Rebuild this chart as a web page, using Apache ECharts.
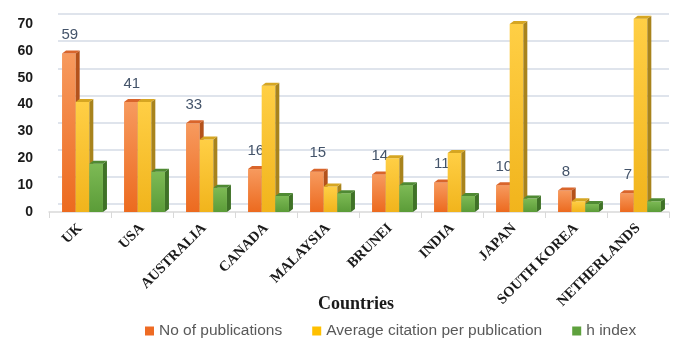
<!DOCTYPE html>
<html>
<head>
<meta charset="utf-8">
<script src="https://cdn.jsdelivr.net/npm/echarts@6/dist/echarts.min.js"></script>
<style>
  html, body { margin: 0; padding: 0; background: #fff; }
  #chart { width: 673px; height: 343px; }
</style>
</head>
<body>
<div id="chart"></div>
<script>
// data
const countries = ['UK', 'USA', 'AUSTRALIA', 'CANADA', 'MALAYSIA', 'BRUNEI', 'INDIA', 'JAPAN', 'SOUTH KOREA', 'NETHERLANDS'];
const publications = [59, 41, 33, 16, 15, 14, 11, 10, 8, 7];
const avgCitation = [41, 41, 27, 47, 9.5, 20, 22, 70, 4, 72];
const hIndex = [18, 15, 9, 6, 7, 10, 6, 5, 3, 4];
const yTicks = [0, 10, 20, 30, 40, 50, 60, 70];

// face colours: [front top, front bottom, side, top]
const faces = [
  ['#f79a5e', '#ec6a1f', '#b4521b', '#d9652b'],
  ['#ffcf45', '#f1b41c', '#a8831c', '#d6a622'],
  ['#7dba55', '#5b9c38', '#3f7227', '#4f8a33']
];
const legendColors = ['#ee6b24', '#ffc000', '#5ea13d'];

const DX = 4, DY = -3;

// draws one 3D-looking bar from the axis scale
function makeRender(idx, withLabel) {
  return function (params, api) {
    const cat = api.value(0);
    const val = api.value(1);
    const top = api.coord([cat, val]);
    const base = api.coord([cat, 0]);
    const catW = api.size([1, 0])[0];
    const bw = catW * 0.22;
    const x0 = top[0] - 1.5 * bw + 2.5 + idx * bw;
    const x1 = x0 + bw;
    const yT = top[1], yB = base[1];
    const f = faces[idx];
    const children = [
      {
        type: 'rect',
        shape: { x: x0, y: yT, width: bw, height: yB - yT },
        style: {
          fill: new echarts.graphic.LinearGradient(0, 0, 0, 1, [
            { offset: 0, color: f[0] }, { offset: 1, color: f[1] }
          ])
        }
      },
      {
        type: 'polygon',
        shape: { points: [[x1, yT], [x1 + DX, yT + DY], [x1 + DX, yB + DY], [x1, yB]] },
        style: { fill: f[2] }
      },
      {
        type: 'polygon',
        shape: { points: [[x0, yT], [x0 + DX, yT + DY], [x1 + DX, yT + DY], [x1, yT]] },
        style: { fill: f[3] }
      }
    ];
    if (withLabel) {
      children.push({
        type: 'text',
        style: {
          text: String(val),
          x: x0 + bw / 2 + 1,
          y: yT - 11,
          align: 'center',
          verticalAlign: 'bottom',
          fill: '#44546a',
          font: '15px "Liberation Sans", Arial, sans-serif'
        }
      });
    }
    return { type: 'group', children: children };
  };
}

function seriesData(arr) {
  return arr.map((v, i) => [i, v]);
}

const chart = echarts.init(document.getElementById('chart'));

const option = {
  animation: false,
  title: {
    text: 'Countries',
    left: 318,
    top: 295,
    padding: 0,
    textStyle: {
      color: '#1a1a1a',
      fontWeight: 'bold',
      fontSize: 18,
      fontFamily: '"Liberation Serif", "Times New Roman", serif'
    }
  },
  legend: {
    top: 323,
    left: 145,
    padding: 0,
    itemWidth: 9,
    itemHeight: 9,
    itemGap: 30,
    icon: 'rect',
    textStyle: { fontSize: 15.5, color: '#595959', fontFamily: '"Liberation Sans", Arial, sans-serif' },
    data: ['No of publications', 'Average citation per publication', 'h index']
  },
  grid: [
    { left: 49, right: 4, top: 24, bottom: 131 },
    { left: 58, right: 4, top: 14, bottom: 139 }
  ],
  xAxis: [
    {
      type: 'category',
      gridIndex: 0,
      data: countries,
      axisLine: { lineStyle: { color: '#d9d9d9', width: 1.5 } },
      axisTick: { show: true, length: 6, lineStyle: { color: '#d9d9d9' } },
      axisLabel: {
        rotate: 45,
        interval: 0,
        margin: 14,
        color: '#1a1a1a',
        fontWeight: 'bold',
        fontSize: 14.5,
        fontFamily: '"Liberation Serif", "Times New Roman", serif'
      }
    },
    {
      type: 'category',
      gridIndex: 1,
      data: countries,
      show: false
    }
  ],
  yAxis: [
    {
      type: 'value',
      gridIndex: 0,
      min: 0,
      max: 70,
      interval: 10,
      axisLine: { show: false },
      axisTick: { show: false },
      splitLine: { show: false },
      axisLabel: {
        margin: 16,
        color: '#1a1a1a',
        fontWeight: 'bold',
        fontSize: 14,
        fontFamily: '"Liberation Sans", Arial, sans-serif',
        customValues: yTicks
      }
    },
    {
      type: 'value',
      gridIndex: 1,
      min: 0,
      max: 70,
      interval: 10,
      axisLine: { show: false },
      axisTick: { show: false },
      axisLabel: { show: false },
      splitLine: { lineStyle: { color: '#dfe4ec', width: 2 } }
    }
  ],
  series: [
    {
      name: 'No of publications',
      type: 'custom',
      xAxisIndex: 0,
      yAxisIndex: 0,
      itemStyle: { color: legendColors[0] },
      renderItem: makeRender(0, true),
      data: seriesData(publications)
    },
    {
      name: 'Average citation per publication',
      type: 'custom',
      xAxisIndex: 0,
      yAxisIndex: 0,
      itemStyle: { color: legendColors[1] },
      renderItem: makeRender(1, false),
      data: seriesData(avgCitation)
    },
    {
      name: 'h index',
      type: 'custom',
      xAxisIndex: 0,
      yAxisIndex: 0,
      itemStyle: { color: legendColors[2] },
      renderItem: makeRender(2, false),
      data: seriesData(hIndex)
    }
  ]
};

chart.setOption(option);
</script>
</body>
</html>
